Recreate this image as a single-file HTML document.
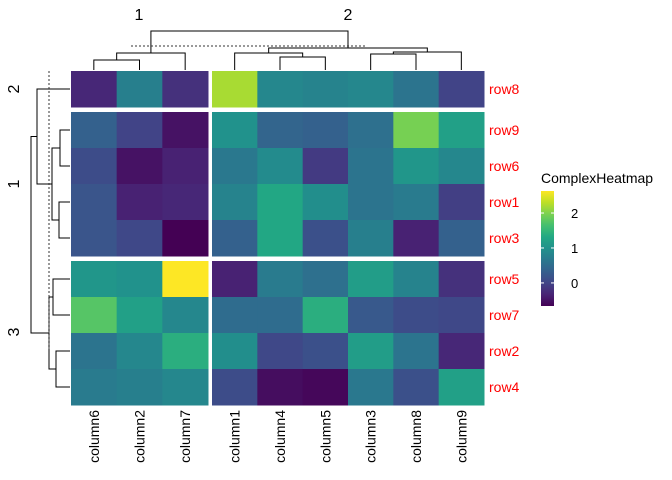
<!DOCTYPE html>
<html><head><meta charset="utf-8"><style>
body{margin:0;background:#fff;}
svg{display:block;font-family:"Liberation Sans",Arial,sans-serif;}
</style></head><body>
<svg id="chart" width="672" height="480" viewBox="0 0 672 480"></svg>
<script>
const rows = ["row8","row9","row6","row1","row3","row5","row7","row2","row4"];
const rowGroup = [0,1,1,1,1,2,2,2,2];
const cols = ["column6","column2","column7","column1","column4","column5","column3","column8","column9"];
const colGroup = [0,0,0,1,1,1,1,1,1];
const values = [
 [-0.3,0.75,-0.2, 2.2,0.85,0.8,0.85,0.6,0.0],
 [0.35,0.0,-0.5, 1.0,0.4,0.35,0.55,1.95,1.2],
 [0.1,-0.5,-0.35, 0.65,0.9,-0.1,0.6,1.05,0.85],
 [0.2,-0.35,-0.3, 0.8,1.3,0.95,0.6,0.7,-0.05],
 [0.2,0.05,-0.66, 0.35,1.3,0.15,0.75,-0.35,0.35],
 [1.05,1.0,2.63, -0.35,0.7,0.55,1.15,0.8,-0.2],
 [1.75,1.2,0.85, 0.5,0.5,1.4,0.25,0.1,0.05],
 [0.6,0.85,1.4, 0.95,0.05,0.15,1.15,0.6,-0.3],
 [0.7,0.75,0.85, 0.1,-0.55,-0.6,0.65,0.15,1.2]
];
const legendTicks = [0,1,2];
const vMin=-0.66, vMax=2.63;

const svg=document.getElementById('chart');
const NS="http://www.w3.org/2000/svg";
function mk(t,a,p){const e=document.createElementNS(NS,t);for(const k in a)e.setAttribute(k,a[k]);(p||svg).appendChild(e);return e;}
const vir=["#440154","#482475","#414487","#355f8d","#2a788e","#21918c","#22a884","#44bf70","#7ad151","#bddf26","#fde725"];
function hex(h){return [1,3,5].map(i=>parseInt(h.substr(i,2),16));}
function color(v){let t=(v-vMin)/(vMax-vMin);t=Math.max(0,Math.min(1,t));const f=t*(vir.length-1);const i=Math.min(vir.length-2,Math.floor(f));const r=f-i;const a=hex(vir[i]),b=hex(vir[i+1]);return "rgb("+a.map((x,k)=>Math.round(x+(b[k]-x)*r)).join(",")+")";}
const colStart=[71,212], colW=[137/3,272/6];
const rowStart=[71,112,261], rowH=36;
function cx(j){const g=colGroup[j];const first=colGroup.indexOf(g);return colStart[g]+(j-first)*colW[g];}
function cw(j){return colW[colGroup[j]];}
function ry(i){const g=rowGroup[i];const first=rowGroup.indexOf(g);return rowStart[g]+(i-first)*rowH;}
function ccx(j){return cx(j)+cw(j)/2;}
function rcy(i){return ry(i)+rowH/2;}

for(let i=0;i<rows.length;i++){for(let j=0;j<cols.length;j++){
 const r=mk('rect',{x:cx(j),y:ry(i),width:cw(j)+0.5,height:rowH+0.5,fill:color(values[i][j])});
 
 
}}
rows.forEach((n,i)=>{const t=mk('text',{x:489,y:rcy(i)+5,'font-size':14,fill:'#ff0000'});t.textContent=n;
 
 });
cols.forEach((n,j)=>{const t=mk('text',{x:0,y:0,'font-size':14,fill:'#000','text-anchor':'end',transform:`translate(${ccx(j)+5},410) rotate(-90)`});t.textContent=n;
 
 });

const dg=mk('g',{stroke:'#000','stroke-width':1,fill:'none'});


function L(pts){mk('polyline',{points:pts.map(p=>p.join(',')).join(' ')},dg);}
function U(x1,x2,y,y1,y2){L([[x1,y1],[x1,y],[x2,y],[x2,y2]]);}
const c=ccx;
U(c(0),c(1),60,70,70);
U((c(0)+c(1))/2,c(2),53,60,70);
U(c(4),c(5),57,70,70);
U(c(3),(c(4)+c(5))/2,53,70,57);
U(c(6),c(7),54,70,70);
const rn=(c(6)+c(7))/2;
U(rn,c(8),52,54,70);
const ln=(c(3)+(c(4)+c(5))/2)/2, rn2=(rn+c(8))/2;
U(ln,rn2,48,53,52);
const lc=((c(0)+c(1))/2+c(2))/2;
U(lc,(ln+rn2)/2,31,53,48);
mk('line',{x1:131,y1:46,x2:365,y2:46,stroke:'#333','stroke-dasharray':'2,2'},dg);
function H(y1,y2,x,x1,x2){L([[x1,y1],[x,y1],[x,y2],[x2,y2]]);}
const r=rcy;
H(r(1),r(2),60,70,70);
H(r(3),r(4),59,70,70);
const g1a=(r(1)+r(2))/2,g1b=(r(3)+r(4))/2;
H(g1a,g1b,52,60,59);
const g1=(g1a+g1b)/2;
H(r(0),g1,37,70,52);
H(r(5),r(6),53,70,70);
H(r(7),r(8),56,70,70);
const g3a=(r(5)+r(6))/2,g3b=(r(7)+r(8))/2;
H(g3a,g3b,49,53,56);
H((r(0)+g1)/2,(g3a+g3b)/2,31,37,49);
mk('line',{x1:49,y1:71,x2:49,y2:349,stroke:'#333','stroke-dasharray':'2,2'},dg);

[[139,"1"],[348,"2"]].forEach(([x,s])=>{const t=mk('text',{x:x,y:20,'font-size':16,'text-anchor':'middle'});t.textContent=s;
 
 });
[[89,"2"],[184,"1"],[332,"3"]].forEach(([y,s])=>{const t=mk('text',{x:0,y:0,'font-size':16,'text-anchor':'middle',transform:`translate(19,${y}) rotate(-90)`});t.textContent=s;
 
 });

const lt=mk('text',{x:541,y:183,'font-size':14});lt.textContent="ComplexHeatmap";


const defs=mk('defs',{});const gr=mk('linearGradient',{id:'lg',x1:0,y1:1,x2:0,y2:0},defs);
for(let k=0;k<=20;k++){mk('stop',{offset:k/20,'stop-color':color(vMin+(vMax-vMin)*k/20)},gr);}
const lb=mk('rect',{x:541,y:191,width:13,height:115,fill:'url(#lg)'});


function ly(v){return 306-(v-vMin)/(vMax-vMin)*115;}
legendTicks.forEach(v=>{
 mk('line',{x1:541,x2:544,y1:ly(v),y2:ly(v),stroke:'#fff'});
 mk('line',{x1:551,x2:554,y1:ly(v),y2:ly(v),stroke:'#fff'});
 const t=mk('text',{x:571,y:ly(v)+5,'font-size':13});t.textContent=v;
 
 
});
</script>
</body></html>
